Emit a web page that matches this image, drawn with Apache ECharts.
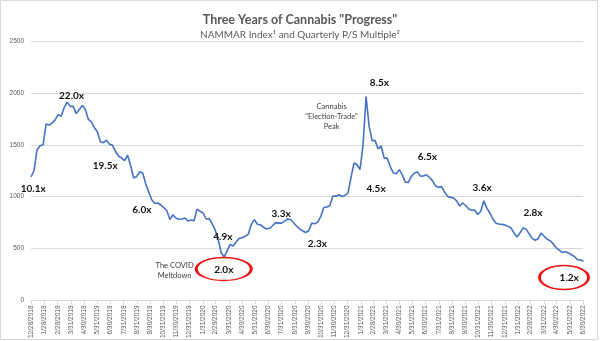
<!DOCTYPE html>
<html>
<head>
<meta charset="utf-8">
<script src="https://cdn.jsdelivr.net/npm/echarts@6/dist/echarts.min.js"></script>
<style>
  html, body { margin: 0; padding: 0; background: #ffffff; }
  #chart { width: 600px; height: 341px; }
</style>
</head>
<body>
<div id="chart"></div>
<script>
// NAMMAR index, weekly closes starting 12/28/2018
const seriesStart = '12/28/2018';
const stepDays = 7;
const nammarWeekly = [
  1190, 1250, 1450, 1490, 1500, 1700, 1690, 1710, 1740, 1790,
  1775, 1860, 1910, 1870, 1870, 1800, 1840, 1880, 1840, 1745,
  1720, 1665, 1625, 1530, 1520, 1545, 1505, 1495, 1435, 1392,
  1372, 1348, 1400, 1300, 1180, 1195, 1240, 1228, 1125, 1045,
  970, 935, 939, 920, 895, 865, 780, 825, 795, 782,
  785, 795, 765, 775, 768, 880, 859, 843, 785, 790,
  740, 680, 590, 460, 420, 480, 540, 525, 565, 600,
  605, 618, 640, 735, 779, 735, 730, 705, 690, 695,
  720, 750, 745, 745, 765, 785, 780, 748, 715, 690,
  670, 655, 672, 745, 740, 755, 811, 895, 900, 915,
  1005, 1005, 1018, 1002, 1012, 1035, 1185, 1324, 1308, 1262,
  1500, 1965, 1680, 1540, 1540, 1460, 1490, 1370, 1372, 1290,
  1230, 1220, 1260, 1210, 1140, 1138, 1195, 1228, 1238, 1198,
  1200, 1211, 1185, 1155, 1105, 1090, 1097, 1045, 1003, 993,
  987, 960, 910, 939, 915, 882, 870, 872, 828, 860,
  960, 890, 843, 785, 745, 737, 733, 727, 714, 700,
  651, 612, 652, 700, 685, 645, 598, 580, 595, 650,
  618, 590, 575, 545, 507, 485, 462, 470, 458, 440,
  424, 394, 390, 378
];

// x-axis tick labels (month ends)
const tickLabels = [
  '12/28/2018', '1/28/2019', '2/28/2019', '3/31/2019', '4/30/2019', '5/31/2019',
  '6/30/2019', '7/31/2019', '8/31/2019', '9/30/2019', '10/31/2019', '11/30/2019',
  '12/31/2019', '1/31/2020', '2/29/2020', '3/31/2020', '4/30/2020', '5/31/2020',
  '6/30/2020', '7/31/2020', '8/31/2020', '9/30/2020', '10/31/2020', '11/30/2020',
  '12/31/2020', '1/31/2021', '2/28/2021', '3/31/2021', '4/30/2021', '5/31/2021',
  '6/30/2021', '7/31/2021', '8/31/2021', '9/30/2021', '10/31/2021', '11/30/2021',
  '12/31/2021', '1/31/2022', '2/28/2022', '3/31/2022', '4/30/2022', '5/31/2022',
  '6/30/2022'
];

// quarterly P/S multiples written on the chart
const multipleLabels = ['10.1x', '22.0x', '19.5x', '6.0x', '4.9x', '2.0x', '3.3x', '2.3x', '8.5x', '4.5x', '6.5x', '3.6x', '2.8x', '1.2x'];
const multipleDates  = ['1/2/2019', '4/1/2019', '6/18/2019', '9/11/2019', '3/17/2020', '3/19/2020', '7/30/2020', '10/22/2020', '3/15/2021', '3/7/2021', '7/4/2021', '11/8/2021', '3/6/2022', '5/29/2022'];
const multipleLevels = [1077, 1974, 1298, 875, 618, 298, 836, 548, 2099, 1077, 1382, 1084, 849, 218];

// circled lows
const circledDates  = ['3/19/2020', '5/17/2022'];
const circledLevels = [303, 221];

// text notes
const noteTexts  = ['The COVID\nMeltdown', 'Cannabis\n"Election-Trade"\nPeak'];
const noteDates  = ['11/26/2019', '11/24/2020'];
const noteLevels = [288, 1776];

function toUTC(s) {
  const p = s.split('/').map(Number);
  return Date.UTC(p[2], p[0] - 1, p[1]);
}
const t0 = toUTC(seriesStart);
function dayOf(s) { return Math.round((toUTC(s) - t0) / 86400000); }

const tickDays = tickLabels.map(dayOf);
const labelByDay = {};
tickDays.forEach((d, i) => { labelByDay[d] = tickLabels[i]; });
const lastDay = tickDays[tickDays.length - 1];

const lineData = nammarWeekly.map((v, i) => [i * stepDays, v]);

const textFont = "'Lato', 'Liberation Sans', sans-serif";
const axisFont = "'Liberation Sans', Arial, sans-serif";

const markData = [];
multipleLabels.forEach((t, i) => {
  markData.push({
    coord: [dayOf(multipleDates[i]), multipleLevels[i]],
    symbol: 'circle', symbolSize: 1,
    itemStyle: { color: 'rgba(0,0,0,0)' },
    label: {
      show: true, position: 'inside', formatter: t,
      fontFamily: textFont, fontWeight: 'bold', fontSize: 10, color: '#111111'
    }
  });
});
circledDates.forEach((d, i) => {
  markData.push({
    coord: [dayOf(d), circledLevels[i]],
    symbol: 'circle', symbolSize: i === 0 ? [55, 23] : [49, 24],
    itemStyle: { color: 'rgba(0,0,0,0)', borderColor: '#ee1111', borderWidth: 2 },
    label: { show: false }
  });
});
noteTexts.forEach((t, i) => {
  markData.push({
    coord: [dayOf(noteDates[i]), noteLevels[i]],
    symbol: 'circle', symbolSize: 1,
    itemStyle: { color: 'rgba(0,0,0,0)' },
    label: {
      show: true, position: 'inside', formatter: t, align: 'center',
      fontFamily: textFont, fontSize: 7.5, lineHeight: 10, color: '#404040'
    }
  });
});

const chart = echarts.init(document.getElementById('chart'), null, { renderer: 'canvas' });
chart.setOption({
  animation: false,
  backgroundColor: '#ffffff',
  title: {
    left: 'center', top: 8, itemGap: 4,
    text: 'Three Years of Cannabis "Progress"',
    subtext: 'NAMMAR Index\u00B9 and Quarterly P/S Multiple\u00B2',
    textStyle: { fontFamily: textFont, fontWeight: 'bold', fontSize: 12.5, color: '#595959' },
    subtextStyle: { fontFamily: textFont, fontSize: 10, color: '#595959' }
  },
  graphic: [{
    type: 'rect', silent: true, z: -1,
    shape: { x: 0.5, y: 0.5, width: 597, height: 339 },
    style: { fill: 'none', stroke: '#d9d9d9', lineWidth: 1 }
  }],
  grid: { left: 31, right: 17, top: 41, bottom: 40, containLabel: false },
  xAxis: {
    type: 'value', min: 0, max: lastDay,
    axisLine: { show: true, lineStyle: { color: '#d9d9d9' } },
    axisTick: { show: true, customValues: tickDays, length: 4, lineStyle: { color: '#d9d9d9' } },
    splitLine: { show: false },
    axisLabel: {
      customValues: tickDays, rotate: 90, margin: 5,
      fontFamily: axisFont, fontSize: 6.5, color: '#595959',
      formatter: (v) => labelByDay[Math.round(v)] || ''
    }
  },
  yAxis: {
    type: 'value', min: 0, max: 2500, interval: 500,
    axisLine: { show: false }, axisTick: { show: false },
    splitLine: { lineStyle: { color: '#d9d9d9', width: 1 } },
    axisLabel: {
      fontFamily: axisFont, fontSize: 6.5, color: '#595959', margin: 7,
      formatter: (v) => String(v)
    }
  },
  series: [{
    type: 'line', data: lineData, showSymbol: false, symbol: 'none',
    lineStyle: { color: '#4472c4', width: 1.6 },
    markPoint: { silent: true, data: markData, animation: false }
  }]
});
</script>
</body>
</html>
